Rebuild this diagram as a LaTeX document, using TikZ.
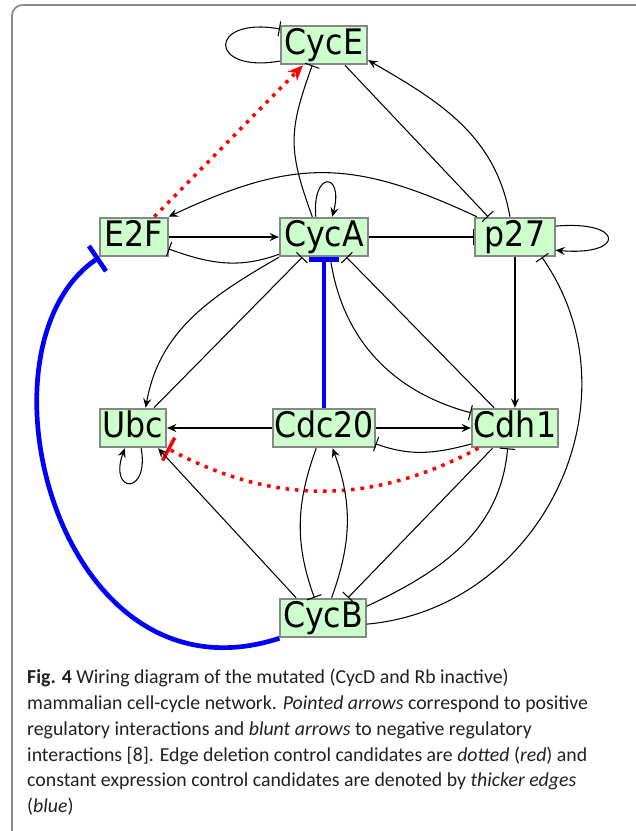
\documentclass[tikz,border=0pt]{standalone}
\usepackage{fontspec}
\usepackage[HTML]{xcolor}
\usetikzlibrary{arrows.meta}

\newfontfamily\genefont[FakeStretch=0.9]{DejaVu Sans}
\newfontfamily\capfont{Carlito}

\definecolor{genegreen}{HTML}{CCFFCC}
\definecolor{geneborder}{HTML}{878787}
\definecolor{framegray}{HTML}{8C8C8C}
\definecolor{captext}{HTML}{231F20}

\begin{document}
\begin{tikzpicture}[x=0.03cm, y=-0.03cm,
  gene/.style={draw=geneborder, fill=genegreen, line width=1.6pt, inner xsep=0pt, inner ysep=0pt,
    text height=24.5pt, text depth=8.5pt, font=\genefont\fontsize{30}{30}\selectfont},
  act/.style={line width=0.9pt, -{Stealth[length=8pt, width=7pt, inset=3pt]}},
  inh/.style={line width=0.9pt, -{Bar[width=13pt]}},
  deletion/.style={red, line width=3pt, dash pattern=on 3pt off 5pt},
  constant/.style={blue, line width=4pt}]

\useasboundingbox (0,0) rectangle (635,831);
\draw[framegray, line width=1.5pt, rounded corners=9pt] (12,845) -- (12,5) -- (650,5);

% --- genes ---
\node[gene, minimum width=2.59cm] (cycE)  at (324,45)  {CycE};
\node[gene, minimum width=2.02cm] (e2f)   at (134,237) {E2F};
\node[gene, minimum width=2.65cm] (cycA)  at (324,237) {CycA};
\node[gene, minimum width=2.38cm] (p27)   at (515,237) {p27};
\node[gene, minimum width=1.99cm] (ubc)   at (133,428) {Ubc};
\node[gene, minimum width=3.04cm] (cdc20) at (324,428) {Cdc20};
\node[gene, minimum width=2.59cm] (cdh1)  at (515,428) {Cdh1};
\node[gene, minimum width=2.56cm] (cycB)  at (323,618) {CycB};

% --- CycE ---
\draw[inh] (cycE.200) to[out=190, in=170, distance=2.2cm] (cycE.160);
\draw[inh] (cycE.316) -- (p27.143);

% --- E2F ---
\draw[act] (e2f) -- (cycA);
\draw[deletion, -{Stealth[length=13pt, width=11pt, inset=4pt]}] (e2f.45) -- (cycE.224); % red: edge deletion

% --- CycA ---
\draw[inh] (cycA.120) to[out=110, in=250, looseness=1.2] (cycE.240);
\draw[act] (cycA.112) to[out=95, in=75, distance=1.4cm] (cycA.68);
\draw[inh] (cycA) -- (p27);
\draw[inh] (cycA.201) to[out=200, in=340] (e2f.341);
\draw[act] (cycA.south west) to[out=210, in=80] (ubc.58);
\draw[inh] (cycA.287) to[out=278, in=165] (cdh1.161);
\draw[inh] (ubc.44) -- (cycA.223);
\draw[inh] (cdh1.136) -- (cycA.318);
\draw[constant, -{Bar[width=26pt]}] (cdc20) -- (cycA); % blue: constant expression

% --- p27 ---
\draw[act] (p27.104) to[out=100, in=330] (cycE.341);
\draw[act] (p27.152) to[out=155, in=25, looseness=1.15] (e2f.north east);
\draw[act] (p27.15) to[out=5, in=355, distance=2.1cm] (p27.342);
\draw[act] (p27) -- (cdh1);

% --- Cdc20, Cdh1, Ubc ---
\draw[act] (cdc20) -- (ubc);
\draw[act] (cdc20) -- (cdh1);
\draw[inh] (cdh1.200) to[out=195, in=340] (cdc20.343);
\draw[deletion, -{Bar[width=22pt]}] (cdh1.209) to[out=208, in=332] (ubc.south east);
\draw[act] (ubc.292) to[out=280, in=250, distance=1.45cm] (ubc.248);

% --- CycB ---
\draw[act] (cycB.143) -- (ubc.321);
\draw[inh] (cdc20.249) to[out=250, in=110] (cycB.113);
\draw[act] (cycB.67) to[out=70, in=290] (cdc20.293);
\draw[inh] (cdh1.222) -- (cycB.39);
\draw[inh] (cycB.15) to[out=25, in=265] (cdh1.250);
\draw[inh] (cycB.352) to[out=5, in=305, looseness=1.1] (p27.323);
\draw[constant, -{Bar[width=26pt]}] (cycB.south west)
  .. controls +(198:7.0cm) and +(214:4.8cm) .. (e2f.south west);

% --- caption ---
\node[anchor=north west, inner sep=0pt, align=left, text=captext,
  font=\capfont\fontsize{16.9}{22}\selectfont] (caption) at (27,669)
  {\textbf{Fig. 4} Wiring diagram of the mutated (CycD and Rb inactive)\\
   mammalian cell-cycle network. \textit{Pointed arrows} correspond to positive\\
   regulatory interactions and \textit{blunt arrows} to negative regulatory\\
   interactions [8]. Edge deletion control candidates are \textit{dotted} (\textit{red}) and\\
   constant expression control candidates are denoted by \textit{thicker edges}\\
   (\textit{blue})};

\end{tikzpicture}
\end{document}
